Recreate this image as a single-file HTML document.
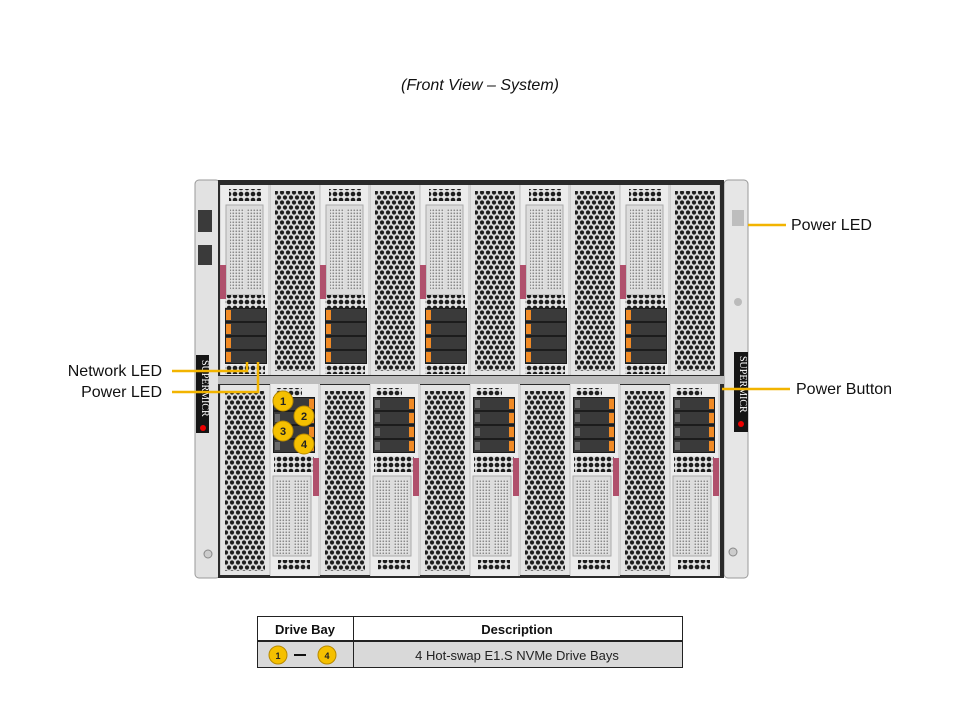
<!DOCTYPE html>
<html><head><meta charset="utf-8"><style>
html,body{margin:0;padding:0;background:#fff;}
body{width:960px;height:720px;overflow:hidden;position:relative;font-family:"Liberation Sans",Arial,sans-serif;}
</style></head><body>
<svg width="960" height="720" viewBox="0 0 960 720" xmlns="http://www.w3.org/2000/svg" style="position:absolute;left:0;top:0">
<defs>
<pattern id="hex" width="6" height="10" patternUnits="userSpaceOnUse">
<rect width="6" height="10" fill="#d8d8d8"/>
<circle cx="3" cy="2.5" r="2.1" fill="#1e1e1e"/>
<circle cx="0" cy="7.5" r="2.1" fill="#1e1e1e"/>
<circle cx="6" cy="7.5" r="2.1" fill="#1e1e1e"/>
</pattern>
<pattern id="mesh" width="3" height="3" patternUnits="userSpaceOnUse">
<rect width="3" height="3" fill="#e6e6e6"/>
<rect x="0.5" y="0.5" width="1.6" height="1.6" fill="#8a8a8a"/>
</pattern>
<pattern id="row" width="6" height="6" patternUnits="userSpaceOnUse">
<rect width="6" height="6" fill="#e0e0e0"/>
<circle cx="3" cy="3" r="2.3" fill="#1e1e1e"/>
</pattern>
<symbol id="perf" width="50" height="190" viewBox="0 0 50 190">
<rect x="0" y="0" width="50" height="190" fill="#cfcfcf"/>
<rect x="1" y="0" width="48" height="190" fill="#e4e4e4"/>
<rect x="5" y="6" width="40" height="180" fill="url(#hex)"/>
</symbol>
<symbol id="drvL" width="42" height="56" viewBox="0 0 42 56">
<rect width="42" height="56" fill="#1c1c1c"/>
<g fill="#3a3a3a"><rect x="1" y="1" width="40" height="12"/><rect x="1" y="15" width="40" height="12"/><rect x="1" y="29" width="40" height="12"/><rect x="1" y="43" width="40" height="12"/></g>
<g fill="#f08a25"><rect x="1" y="2" width="5" height="10"/><rect x="1" y="16" width="5" height="10"/><rect x="1" y="30" width="5" height="10"/><rect x="1" y="44" width="5" height="10"/></g>
</symbol>
<symbol id="drvR" width="42" height="56" viewBox="0 0 42 56">
<rect width="42" height="56" fill="#1c1c1c"/>
<g fill="#3a3a3a"><rect x="1" y="1" width="40" height="12"/><rect x="1" y="15" width="40" height="12"/><rect x="1" y="29" width="40" height="12"/><rect x="1" y="43" width="40" height="12"/></g>
<g fill="#6a6a6a"><rect x="2" y="3" width="5" height="8"/><rect x="2" y="17" width="5" height="8"/><rect x="2" y="31" width="5" height="8"/><rect x="2" y="45" width="5" height="8"/></g>
<g fill="#f08a25"><rect x="36" y="2" width="5" height="10"/><rect x="36" y="16" width="5" height="10"/><rect x="36" y="30" width="5" height="10"/><rect x="36" y="44" width="5" height="10"/></g>
</symbol>
<symbol id="bladeT" width="50" height="190" viewBox="0 0 50 190">
<rect width="50" height="190" fill="#d6d6d6"/>
<rect x="1" y="0" width="47" height="190" fill="#ececec"/>
<rect x="9" y="4" width="32" height="12" fill="url(#row)"/>
<rect x="6" y="20" width="37" height="90" fill="#dcdcdc" stroke="#aaa" stroke-width="1"/>
<rect x="10" y="24" width="14" height="80" fill="url(#mesh)"/>
<rect x="27" y="24" width="14" height="80" fill="url(#mesh)"/>
<rect x="5" y="110" width="40" height="13" fill="url(#row)"/>
<use href="#drvL" x="5" y="123" width="42" height="56"/>
<rect x="5" y="180" width="40" height="9" fill="url(#row)"/>
<rect x="0" y="80" width="6" height="34" fill="#b0506c"/>
</symbol>
<symbol id="bladeB" width="50" height="192" viewBox="0 0 50 192">
<rect width="50" height="192" fill="#d6d6d6"/>
<rect x="1" y="0" width="47" height="192" fill="#ececec"/>
<rect x="6" y="4" width="26" height="8" fill="url(#row)"/>
<use href="#drvR" x="3" y="13" width="42" height="56"/>
<rect x="4" y="72" width="40" height="16" fill="url(#row)"/>
<rect x="3" y="92" width="38" height="80" fill="#dcdcdc" stroke="#aaa" stroke-width="1"/>
<rect x="6" y="96" width="14" height="74" fill="url(#mesh)"/>
<rect x="24" y="96" width="14" height="74" fill="url(#mesh)"/>
<rect x="8" y="176" width="32" height="10" fill="url(#row)"/>
<rect x="43" y="74" width="6" height="38" fill="#b0506c"/>
</symbol>
</defs>

<text x="480" y="90" font-size="16" font-style="italic" text-anchor="middle" fill="#111">(Front View – System)</text>

<!-- ears -->
<rect x="195" y="180" width="25" height="398" rx="4" fill="#e2e2e2" stroke="#999"/>
<rect x="198" y="210" width="14" height="22" fill="#3a3a3a"/>
<rect x="198" y="245" width="14" height="20" fill="#3a3a3a"/>
<rect x="196" y="355" width="13" height="78" fill="#151515"/>
<text x="202" y="360" font-size="10" fill="#fff" font-family="Liberation Serif,serif" transform="rotate(90 202 360)">SUPERMICR</text>
<circle cx="203" cy="428" r="3" fill="#e00"/>
<rect x="724" y="180" width="24" height="398" rx="4" fill="#e6e6e6" stroke="#999"/>
<rect x="732" y="210" width="12" height="16" fill="#bdbdbd"/>
<circle cx="738" cy="302" r="4" fill="#bbb"/>
<rect x="734" y="352" width="14" height="80" fill="#151515"/>
<text x="740" y="356" font-size="10" fill="#fff" font-family="Liberation Serif,serif" transform="rotate(90 740 356)">SUPERMICR</text>
<circle cx="741" cy="424" r="3" fill="#e00"/>
<circle cx="733" cy="552" r="4" fill="#ccc" stroke="#888"/>
<circle cx="208" cy="554" r="4" fill="#ccc" stroke="#888"/>

<!-- chassis -->
<rect x="218" y="180" width="506" height="398" fill="#2a2a2a"/>
<rect x="218" y="376" width="506" height="8" fill="#bcbcbc"/>

<use href="#bladeT" x="220" y="185"/>
<use href="#perf" x="270" y="185"/>
<use href="#bladeT" x="320" y="185"/>
<use href="#perf" x="370" y="185"/>
<use href="#bladeT" x="420" y="185"/>
<use href="#perf" x="470" y="185"/>
<use href="#bladeT" x="520" y="185"/>
<use href="#perf" x="570" y="185"/>
<use href="#bladeT" x="620" y="185"/>
<use href="#perf" x="670" y="185"/>

<use href="#perf" x="220" y="384" height="192"/>
<use href="#bladeB" x="270" y="384"/>
<use href="#perf" x="320" y="384" height="192"/>
<use href="#bladeB" x="370" y="384"/>
<use href="#perf" x="420" y="384" height="192"/>
<use href="#bladeB" x="470" y="384"/>
<use href="#perf" x="520" y="384" height="192"/>
<use href="#bladeB" x="570" y="384"/>
<use href="#perf" x="620" y="384" height="192"/>
<use href="#bladeB" x="670" y="384"/>

<!-- drive numbers -->
<g font-size="11" font-weight="bold" text-anchor="middle" fill="#222">
<circle cx="283" cy="401" r="10" fill="#f5c000" stroke="#b88a00"/><text x="283" y="405">1</text>
<circle cx="304" cy="416" r="10" fill="#f5c000" stroke="#b88a00"/><text x="304" y="420">2</text>
<circle cx="283" cy="431" r="10" fill="#f5c000" stroke="#b88a00"/><text x="283" y="435">3</text>
<circle cx="304" cy="444" r="10" fill="#f5c000" stroke="#b88a00"/><text x="304" y="448">4</text>
</g>

<!-- callouts -->
<g stroke="#f2b400" stroke-width="2.5" fill="none">
<polyline points="172,371 247,371 247,362"/>
<polyline points="172,392 258,392 258,362"/>
<line x1="748" y1="225" x2="786" y2="225"/>
<line x1="722" y1="389" x2="790" y2="389"/>
</g>
<g font-size="16" fill="#111">
<text x="162" y="376" text-anchor="end">Network LED</text>
<text x="162" y="397" text-anchor="end">Power LED</text>
<text x="791" y="230">Power LED</text>
<text x="796" y="394">Power Button</text>
</g>

<!-- table -->
<rect x="257.5" y="616.5" width="425" height="51" fill="#fff" stroke="#222"/>
<rect x="258" y="642" width="424" height="25.5" fill="#d9d9d9"/>
<line x1="257" y1="641" x2="683" y2="641" stroke="#222" stroke-width="2"/>
<line x1="353.5" y1="616" x2="353.5" y2="668" stroke="#222"/>
<rect x="257.5" y="616.5" width="425" height="51" fill="none" stroke="#222"/>
<g font-size="13" font-weight="bold" text-anchor="middle" fill="#111">
<text x="305" y="634">Drive Bay</text>
<text x="517" y="634">Description</text>
</g>
<text x="517" y="660" font-size="13" text-anchor="middle" fill="#222">4 Hot-swap E1.S NVMe Drive Bays</text>
<g font-size="9" font-weight="bold" text-anchor="middle" fill="#222">
<circle cx="278" cy="655" r="9" fill="#f5c000" stroke="#b88a00"/><text x="278" y="659">1</text>
<line x1="294" y1="655" x2="306" y2="655" stroke="#111" stroke-width="2"/>
<circle cx="327" cy="655" r="9" fill="#f5c000" stroke="#b88a00"/><text x="327" y="659">4</text>
</g>
</svg>
</body></html>
